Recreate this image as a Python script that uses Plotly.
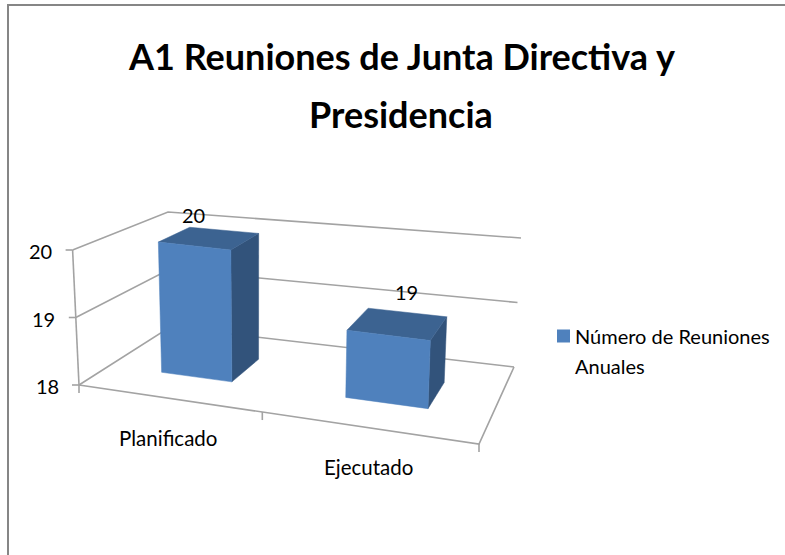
import numpy as np
import plotly.graph_objects as go

categories = ["Planificado", "Ejecutado"]
values = [20, 19]
legend_lines = ["Número de Reuniones", "Anuales"]
z_ticks = [18, 19, 20]
title_lines = ["A1 Reuniones de Junta Directiva y", "Presidencia"]

FONT = "Lato"
W, H = 785, 555

FLOOR = [(79, 385), (479, 444), (514, 367), (170, 327)]
TOP = [(72.6, 250), (485, 303), (521, 238), (168, 212)]
UNIT = [(0, 0), (2, 0), (2, 1), (0, 1)]


def homography(src, dst):
    a, b = [], []
    for (x, y), (X, Y) in zip(src, dst):
        a.append([x, y, 1, 0, 0, 0, -x * X, -y * X])
        a.append([0, 0, 0, x, y, 1, -x * Y, -y * Y])
        b += [X, Y]
    return np.append(np.linalg.solve(np.array(a, float), np.array(b, float)), 1).reshape(3, 3)


H0 = homography(UNIT, FLOOR)
RISE = [np.array(t, float) - np.array(f, float) for t, f in zip(TOP, FLOOR)]


def project(u, v, z):
    """Map (category position, depth, value) to the chart's oblique view."""
    p = H0 @ np.array([u, v, 1.0])
    base = p[:2] / p[2]
    s = u / 2
    rise = (1 - v) * ((1 - s) * RISE[0] + s * RISE[1]) + v * ((1 - s) * RISE[3] + s * RISE[2])
    return base + rise * (z - z_ticks[0]) / (z_ticks[-1] - z_ticks[0])


BAR_U = [(0.31, 0.71), (1.31, 1.71)]
BAR_V = (0.305, 0.66)
FRONT, SIDE, CAP = "#4F81BD", "#32537B", "#3C6391"
GRID = "#A3A3A3"

fig = go.Figure()


def line(pts, color=GRID, width=1.6):
    fig.add_trace(go.Scatter(x=[p[0] for p in pts], y=[p[1] for p in pts], mode="lines",
                             line=dict(color=color, width=width), showlegend=False, hoverinfo="skip"))


def face(pts, color):
    pts = pts + [pts[0]]
    fig.add_trace(go.Scatter(x=[p[0] for p in pts], y=[p[1] for p in pts], mode="lines", fill="toself",
                             fillcolor=color, line=dict(color=color, width=0.5), showlegend=False,
                             hoverinfo="skip"))


for z in z_ticks:
    line([project(0, 0, z), project(0, 1, z), project(2, 1, z)])
    p = project(0, 0, z)
    line([p, p + np.array([-7, 0])])
line([project(0, 0, z_ticks[0]), project(0, 0, z_ticks[-1])])
line([project(0, 0, 18), project(2, 0, 18), project(2, 1, 18)])
for u in [0, 1, 2]:
    p = project(u, 0, 18)
    line([p, p + np.array([0, 8])])

for (u0, u1), val in zip(BAR_U, values):
    v0, v1 = BAR_V
    base = z_ticks[0]
    face([project(u1, v0, base), project(u1, v1, base), project(u1, v1, val), project(u1, v0, val)], SIDE)
    face([project(u0, v0, val), project(u1, v0, val), project(u1, v1, val), project(u0, v1, val)], CAP)
    face([project(u0, v0, base), project(u1, v0, base), project(u1, v0, val), project(u0, v0, val)], FRONT)

fig.add_trace(go.Scatter(x=[563.5], y=[336], mode="markers",
                         marker=dict(symbol="square", size=13, color=FRONT, line=dict(width=0)),
                         showlegend=False, hoverinfo="skip"))

ann = []


def text(x, y, s, size, bold=False, anchor="center"):
    ann.append(dict(x=x, y=y, xref="x", yref="y", text=f"<b>{s}</b>" if bold else s, showarrow=False,
                    xanchor=anchor, yanchor="middle", font=dict(family=FONT, size=size, color="#000000")))


text(401, 56, title_lines[0], 36, True)
text(401, 114, title_lines[1], 36, True)
for z in z_ticks:
    p = project(0, 0, z)
    text(p[0] - 32, p[1] + 1, str(z), 20)
text(168, 438, categories[0], 20.5)
text(368, 467, categories[1], 20.5)
text(193, 215, str(values[0]), 20)
text(406, 292, str(values[1]), 20)
text(573, 336, legend_lines[0], 20, anchor="left")
text(573, 366, legend_lines[1], 20, anchor="left")

line([(8, H), (8, 5), (W, 5)], color="#868686", width=2)

fig.update_layout(
    width=W, height=H, autosize=False, margin=dict(l=0, r=0, t=0, b=0), showlegend=False,
    paper_bgcolor="white", plot_bgcolor="white", annotations=ann,
    xaxis=dict(range=[0, W], visible=False, fixedrange=True),
    yaxis=dict(range=[H, 0], visible=False, fixedrange=True),
)
fig.write_html("out.html", config=dict(displayModeBar=False),
               post_script="document.body.style.margin='0';document.documentElement.style.overflow='hidden';")
